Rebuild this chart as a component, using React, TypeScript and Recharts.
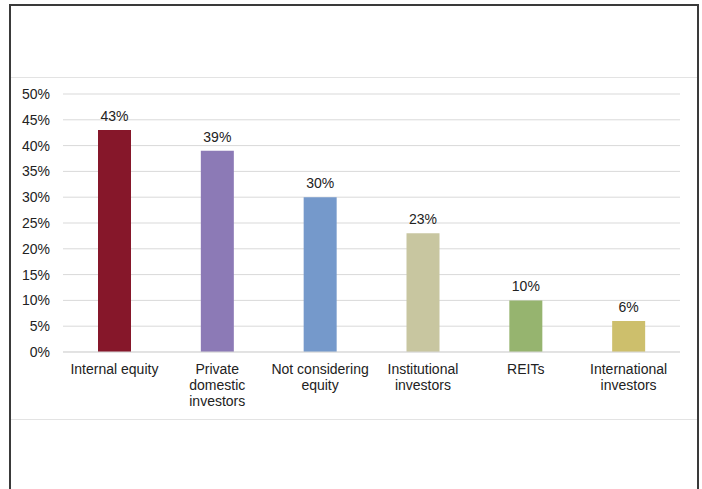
import { BarChart, Bar, XAxis, YAxis, CartesianGrid, Cell, LabelList } from "recharts";

const categories = [
  "Internal equity",
  "Private domestic investors",
  "Not considering equity",
  "Institutional investors",
  "REITs",
  "International investors",
];
const tickLines = [
  ["Internal equity"],
  ["Private", "domestic", "investors"],
  ["Not considering", "equity"],
  ["Institutional", "investors"],
  ["REITs"],
  ["International", "investors"],
];
const shares = [43, 39, 30, 23, 10, 6];
const barColors = ["#86172a", "#8c7ab6", "#7599cb", "#c8c6a0", "#96b46f", "#cdbf6c"];
const yTicks = [0, 5, 10, 15, 20, 25, 30, 35, 40, 45, 50];

const FONT = "'Liberation Sans', Arial, sans-serif";

const chartData = categories.map((name, i) => ({ name, value: shares[i] }));

const CategoryTick = ({ x, y, index }: any) => {
  const lines = tickLines[index] || [];
  return (
    <text x={x} y={y} textAnchor="middle" fill="#222" fontSize={14} fontFamily={FONT}>
      {lines.map((l, i) => (
        <tspan key={i} x={x} dy={i === 0 ? 19.5 : 16}>
          {l}
        </tspan>
      ))}
    </text>
  );
};

const App = () => {
  return (
    <div style={{ position: "absolute", left: 0, top: 0, width: 702, height: 489, background: "#fff", overflow: "hidden" }}>
      <div
        style={{
          position: "absolute",
          left: 9,
          top: 4,
          width: 686,
          height: 520,
          borderLeft: "2px solid #3a3a3a",
          borderTop: "2px solid #3a3a3a",
          borderRight: "2px solid #3a3a3a",
        }}
      />
      <div style={{ position: "absolute", left: 11, top: 77, width: 686, height: 1, background: "#e3e3e3" }} />
      <div style={{ position: "absolute", left: 11, top: 419, width: 686, height: 1, background: "#e3e3e3" }} />
      <div style={{ position: "absolute", left: 0, top: 0 }}>
        <BarChart width={702} height={489} data={chartData} margin={{ top: 94, right: 22, bottom: 107, left: 0 }} barSize={33}>
          <CartesianGrid vertical={false} stroke="#d9d9d9" />
          <XAxis
            dataKey="name"
            interval={0}
            height={30}
            tickLine={false}
            axisLine={{ stroke: "#d9d9d9" }}
            tick={<CategoryTick />}
            tickSize={0}
            tickMargin={2}
          />
          <YAxis
            domain={[0, 50]}
            ticks={yTicks}
            width={63}
            axisLine={false}
            tickLine={false}
            tickSize={0}
            tickMargin={13}
            interval={0}
            tickFormatter={(v) => `${v}%`}
            tick={{ fontSize: 14, fill: "#222", fontFamily: FONT }}
          />
          <Bar dataKey="value" isAnimationActive={false}>
            {chartData.map((d, i) => (
              <Cell key={d.name} fill={barColors[i]} />
            ))}
            <LabelList
              dataKey="value"
              position="top"
              offset={9}
              formatter={(v: any) => `${v}%`}
              style={{ fontSize: 14, fill: "#222", fontFamily: FONT }}
            />
          </Bar>
        </BarChart>
      </div>
    </div>
  );
};

export default App;
